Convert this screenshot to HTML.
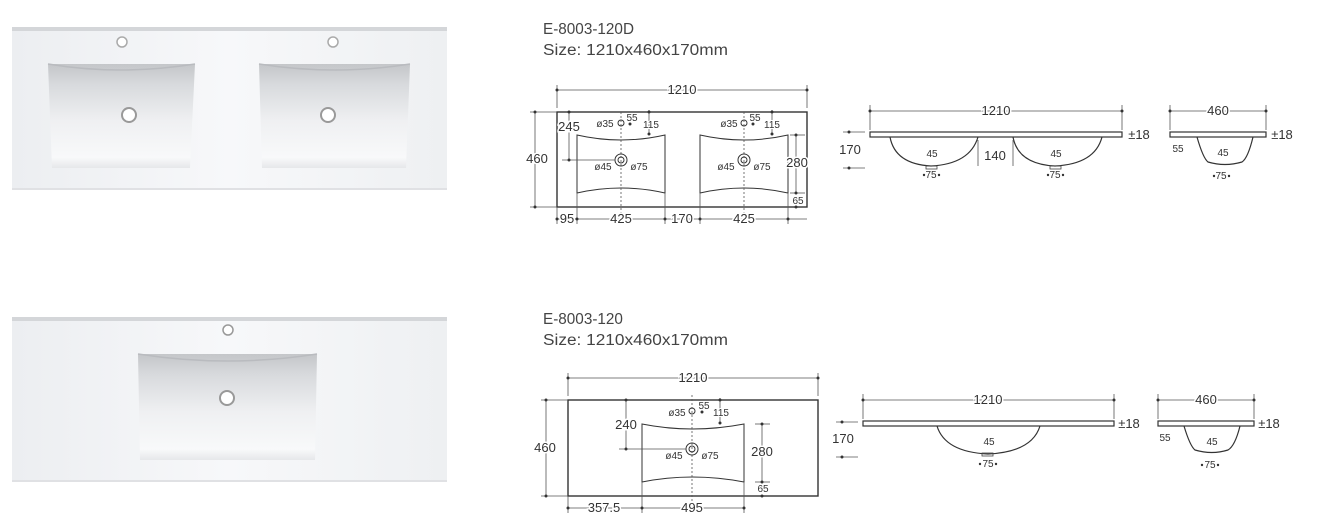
<!DOCTYPE html>
<html><head><meta charset="utf-8"><style>
html,body{margin:0;padding:0;background:#fff;}
svg{display:block;font-family:"Liberation Sans",sans-serif;}
.d{stroke:#555;stroke-width:0.8;fill:none}
.o{stroke:#333;stroke-width:1.4;fill:none}
.t{font-size:13px;fill:#333;stroke:#fff;stroke-width:3;paint-order:stroke;text-anchor:middle}
.s{font-size:10px;fill:#333;stroke:#fff;stroke-width:2;paint-order:stroke;text-anchor:middle}
.dot{fill:#333}
.dash{stroke:#555;stroke-width:0.8;stroke-dasharray:2 2;fill:none}
.h{font-size:15.3px;fill:#444}
</style></head><body>
<svg width="1334" height="520" viewBox="0 0 1334 520" xmlns="http://www.w3.org/2000/svg">
<defs>
<linearGradient id="slab" x1="0" y1="0" x2="1" y2="0">
<stop offset="0" stop-color="#eceef1"/><stop offset="0.5" stop-color="#f7f8fa"/><stop offset="1" stop-color="#eef0f2"/></linearGradient>
<linearGradient id="bas" x1="0" y1="0" x2="0" y2="1">
<stop offset="0" stop-color="#c4c6c9"/><stop offset="0.2" stop-color="#d8dadd"/><stop offset="0.55" stop-color="#eff0f2"/><stop offset="0.9" stop-color="#f8f9fa"/><stop offset="1" stop-color="#e6e7ea"/></linearGradient>
</defs>

<rect x="12" y="28" width="435" height="162" fill="url(#slab)"/>
<rect x="12" y="27" width="435" height="4" fill="#d4d6d9"/>
<rect x="12" y="188" width="435" height="2" fill="#e0e1e4"/>
<path d="M48 64 L195 64 L190 168 L52 168 Z" fill="url(#bas)"/>
<path d="M48 64 Q120 76 195 64" fill="none" stroke="#b9bbbf" stroke-width="1.5"/>
<path d="M259 64 L410 64 L406 168 L262 168 Z" fill="url(#bas)"/>
<path d="M259 64 Q335 76 410 64" fill="none" stroke="#b9bbbf" stroke-width="1.5"/>
<circle cx="122" cy="42" r="5" fill="#fff" stroke="#aaa" stroke-width="1.5"/>
<circle cx="333" cy="42" r="5" fill="#fff" stroke="#aaa" stroke-width="1.5"/>
<circle cx="129" cy="115" r="7" fill="#fff" stroke="#999" stroke-width="2"/>
<circle cx="328" cy="115" r="7" fill="#fff" stroke="#999" stroke-width="2"/>

<rect x="12" y="318" width="435" height="164" fill="url(#slab)"/>
<rect x="12" y="317" width="435" height="4" fill="#d4d6d9"/>
<rect x="12" y="480" width="435" height="2" fill="#e0e1e4"/>
<path d="M138 354 L317 354 L315 460 L140 460 Z" fill="url(#bas)"/>
<path d="M138 354 Q228 368 317 354" fill="none" stroke="#b9bbbf" stroke-width="1.5"/>
<circle cx="228" cy="330" r="5" fill="#fff" stroke="#999" stroke-width="1.5"/>
<circle cx="227" cy="398" r="7" fill="#fff" stroke="#999" stroke-width="2"/>

<text class="h" x="543" y="34">E-8003-120D</text>
<text class="h" x="543" y="55" textLength="185" lengthAdjust="spacingAndGlyphs">Size: 1210x460x170mm</text>
<text class="h" x="543" y="324">E-8003-120</text>
<text class="h" x="543" y="345" textLength="185" lengthAdjust="spacingAndGlyphs">Size: 1210x460x170mm</text>

<rect class="o" x="557" y="112" width="250" height="95"/>
<line class="d" x1="557" y1="90" x2="807" y2="90"/>
<line class="d" x1="557" y1="85" x2="557" y2="108"/><line class="d" x1="807" y1="85" x2="807" y2="108"/>
<circle class="dot" cx="557" cy="90" r="1.5"/><circle class="dot" cx="807" cy="90" r="1.5"/>
<text class="t" x="682" y="94">1210</text>
<line class="d" x1="535" y1="112" x2="535" y2="207"/>
<line class="d" x1="530" y1="112" x2="557" y2="112"/><line class="d" x1="530" y1="207" x2="557" y2="207"/>
<circle class="dot" cx="535" cy="112" r="1.5"/><circle class="dot" cx="535" cy="207" r="1.5"/>
<text class="t" x="537" y="163">460</text>
<path class="o" d="M577 135 Q621 145 665 135 L665 193 Q621 183 577 193 Z" style="stroke-width:1"/>
<path class="o" d="M700 135 Q744 145 788 135 L788 193 Q744 183 700 193 Z" style="stroke-width:1"/>
<line class="dash" x1="621" y1="112" x2="621" y2="215"/>
<line class="dash" x1="744" y1="112" x2="744" y2="215"/>
<circle cx="621" cy="160" r="6" fill="none" stroke="#333"/><circle cx="621" cy="160" r="3" fill="none" stroke="#333"/>
<circle cx="744" cy="160" r="6" fill="none" stroke="#333"/><circle cx="744" cy="160" r="3" fill="none" stroke="#333"/>
<circle cx="621" cy="123" r="3" fill="none" stroke="#333"/><circle cx="744" cy="123" r="3" fill="none" stroke="#333"/>
<circle class="dot" cx="630" cy="124" r="1.5"/><circle class="dot" cx="753" cy="124" r="1.5"/>
<line class="d" x1="569" y1="112" x2="569" y2="160"/><line class="d" x1="562" y1="160" x2="615" y2="160"/>
<circle class="dot" cx="569" cy="112" r="1.5"/><circle class="dot" cx="569" cy="160" r="1.5"/>
<text class="t" x="569" y="131">245</text>
<line class="d" x1="649" y1="110" x2="649" y2="135"/><line class="d" x1="772" y1="110" x2="772" y2="135"/>
<circle class="dot" cx="649" cy="112" r="1.5"/><circle class="dot" cx="649" cy="134" r="1.5"/>
<circle class="dot" cx="772" cy="112" r="1.5"/><circle class="dot" cx="772" cy="134" r="1.5"/>
<text class="s" x="651" y="128">115</text><text class="s" x="772" y="128">115</text>
<text class="s" x="632" y="121">55</text><text class="s" x="755" y="121">55</text>
<text class="s" x="605" y="127">ø35</text><text class="s" x="729" y="127">ø35</text>
<text class="s" x="603" y="170">ø45</text><text class="s" x="639" y="170">ø75</text>
<text class="s" x="726" y="170">ø45</text><text class="s" x="762" y="170">ø75</text>
<line class="d" x1="796" y1="135" x2="796" y2="193"/>
<line class="d" x1="790" y1="135" x2="805" y2="135"/><line class="d" x1="790" y1="193" x2="805" y2="193"/>
<circle class="dot" cx="796" cy="135" r="1.5"/><circle class="dot" cx="796" cy="193" r="1.5"/><circle class="dot" cx="796" cy="207" r="1.5"/>
<text class="t" x="797" y="167">280</text>
<text class="s" x="798" y="204">65</text>
<line class="d" x1="557" y1="219" x2="807" y2="219"/>
<line class="d" x1="577" y1="193" x2="577" y2="224"/><line class="d" x1="665" y1="193" x2="665" y2="224"/>
<line class="d" x1="700" y1="193" x2="700" y2="224"/><line class="d" x1="788" y1="193" x2="788" y2="224"/>
<line class="d" x1="557" y1="207" x2="557" y2="224"/>
<circle class="dot" cx="557" cy="219" r="1.5"/><circle class="dot" cx="577" cy="219" r="1.5"/><circle class="dot" cx="665" cy="219" r="1.5"/><circle class="dot" cx="700" cy="219" r="1.5"/><circle class="dot" cx="788" cy="219" r="1.5"/>
<text class="t" x="567" y="223">95</text><text class="t" x="621" y="223">425</text><text class="t" x="682" y="223">170</text><text class="t" x="744" y="223">425</text>

<line class="d" x1="870" y1="111" x2="1122" y2="111"/>
<line class="d" x1="870" y1="105" x2="870" y2="130"/><line class="d" x1="1122" y1="105" x2="1122" y2="130"/>
<circle class="dot" cx="870" cy="111" r="1.5"/><circle class="dot" cx="1122" cy="111" r="1.5"/>
<text class="t" x="996" y="115">1210</text>
<rect class="o" x="870" y="132" width="252" height="5" style="stroke-width:1.2"/>
<path class="o" d="M890 137 Q895 164 931 166 Q970 164 978 137" style="stroke-width:1.2"/>
<path class="o" d="M1013 137 Q1018 164 1055 166 Q1095 164 1102 137" style="stroke-width:1.2"/>
<rect x="926" y="166" width="11" height="3" fill="none" stroke="#444" stroke-width="0.8"/>
<rect x="1050" y="166" width="11" height="3" fill="none" stroke="#444" stroke-width="0.8"/>
<text class="s" x="932" y="157">45</text><text class="s" x="1056" y="157">45</text>
<text class="s" x="931" y="178">75</text><text class="s" x="1055" y="178">75</text>
<circle class="dot" cx="924" cy="175" r="1.2"/><circle class="dot" cx="939" cy="175" r="1.2"/>
<circle class="dot" cx="1048" cy="175" r="1.2"/><circle class="dot" cx="1063" cy="175" r="1.2"/>
<line class="d" x1="978" y1="140" x2="978" y2="166"/><line class="d" x1="1013" y1="140" x2="1013" y2="166"/>
<text class="t" x="995" y="160">140</text>
<line class="d" x1="843" y1="132" x2="865" y2="132"/><line class="d" x1="843" y1="168" x2="865" y2="168"/>
<circle class="dot" cx="849" cy="132" r="1.5"/><circle class="dot" cx="849" cy="168" r="1.5"/>
<text class="t" x="850" y="154">170</text>
<text class="t" x="1139" y="139">±18</text>
<line class="d" x1="1170" y1="111" x2="1266" y2="111"/>
<line class="d" x1="1170" y1="105" x2="1170" y2="130"/><line class="d" x1="1266" y1="105" x2="1266" y2="130"/>
<circle class="dot" cx="1170" cy="111" r="1.5"/><circle class="dot" cx="1266" cy="111" r="1.5"/>
<text class="t" x="1218" y="115">460</text>
<rect class="o" x="1170" y="132" width="96" height="5" style="stroke-width:1.2"/>
<path class="o" d="M1197 137 Q1203 158 1208 162 Q1225 167 1242 162 Q1248 158 1253 137" style="stroke-width:1.2"/>
<text class="s" x="1223" y="156">45</text><text class="s" x="1221" y="179">75</text>
<circle class="dot" cx="1214" cy="176" r="1.2"/><circle class="dot" cx="1229" cy="176" r="1.2"/>
<text class="s" x="1178" y="152">55</text>
<text class="t" x="1282" y="139">±18</text>

<rect class="o" x="568" y="400" width="250" height="96"/>
<line class="d" x1="568" y1="378" x2="818" y2="378"/>
<line class="d" x1="568" y1="373" x2="568" y2="396"/><line class="d" x1="818" y1="373" x2="818" y2="396"/>
<circle class="dot" cx="568" cy="378" r="1.5"/><circle class="dot" cx="818" cy="378" r="1.5"/>
<text class="t" x="693" y="382">1210</text>
<line class="d" x1="546" y1="400" x2="546" y2="496"/>
<line class="d" x1="541" y1="400" x2="568" y2="400"/><line class="d" x1="541" y1="496" x2="568" y2="496"/>
<circle class="dot" cx="546" cy="400" r="1.5"/><circle class="dot" cx="546" cy="496" r="1.5"/>
<text class="t" x="545" y="452">460</text>
<path class="o" d="M642 424 Q692 434 744 424 L744 482 Q692 472 642 482 Z" style="stroke-width:1"/>
<line class="dash" x1="692" y1="395" x2="692" y2="505"/>
<circle cx="692" cy="449" r="6" fill="none" stroke="#333"/><circle cx="692" cy="449" r="3" fill="none" stroke="#333"/>
<circle cx="692" cy="411" r="3" fill="none" stroke="#333"/><circle class="dot" cx="702" cy="412" r="1.5"/>
<line class="d" x1="626" y1="400" x2="626" y2="449"/><line class="d" x1="619" y1="449" x2="686" y2="449"/>
<circle class="dot" cx="626" cy="400" r="1.5"/><circle class="dot" cx="626" cy="449" r="1.5"/>
<text class="t" x="626" y="429">240</text>
<line class="d" x1="720" y1="398" x2="720" y2="424"/>
<circle class="dot" cx="720" cy="400" r="1.5"/><circle class="dot" cx="720" cy="423" r="1.5"/>
<text class="s" x="721" y="416">115</text><text class="s" x="704" y="409">55</text>
<text class="s" x="677" y="416">ø35</text>
<text class="s" x="674" y="459">ø45</text><text class="s" x="710" y="459">ø75</text>
<line class="d" x1="762" y1="424" x2="762" y2="482"/>
<line class="d" x1="755" y1="424" x2="770" y2="424"/><line class="d" x1="755" y1="482" x2="770" y2="482"/>
<circle class="dot" cx="762" cy="424" r="1.5"/><circle class="dot" cx="762" cy="482" r="1.5"/><circle class="dot" cx="762" cy="496" r="1.5"/>
<text class="t" x="762" y="456">280</text>
<text class="s" x="763" y="492">65</text>
<line class="d" x1="568" y1="508" x2="744" y2="508"/>
<line class="d" x1="568" y1="496" x2="568" y2="513"/><line class="d" x1="642" y1="482" x2="642" y2="513"/><line class="d" x1="744" y1="482" x2="744" y2="513"/>
<circle class="dot" cx="568" cy="508" r="1.5"/><circle class="dot" cx="642" cy="508" r="1.5"/><circle class="dot" cx="744" cy="508" r="1.5"/>
<text class="t" x="604" y="512">357.5</text><text class="t" x="692" y="512">495</text>

<line class="d" x1="863" y1="400" x2="1114" y2="400"/>
<line class="d" x1="863" y1="394" x2="863" y2="419"/><line class="d" x1="1114" y1="394" x2="1114" y2="419"/>
<circle class="dot" cx="863" cy="400" r="1.5"/><circle class="dot" cx="1114" cy="400" r="1.5"/>
<text class="t" x="988" y="404">1210</text>
<rect class="o" x="863" y="421" width="251" height="5" style="stroke-width:1.2"/>
<path class="o" d="M937 426 Q945 452 988 454 Q1032 452 1040 426" style="stroke-width:1.2"/>
<rect x="982" y="453" width="11" height="3" fill="none" stroke="#444" stroke-width="0.8"/>
<text class="s" x="989" y="445">45</text><text class="s" x="988" y="467">75</text>
<circle class="dot" cx="980" cy="464" r="1.2"/><circle class="dot" cx="996" cy="464" r="1.2"/>
<line class="d" x1="836" y1="422" x2="858" y2="422"/><line class="d" x1="836" y1="457" x2="858" y2="457"/>
<circle class="dot" cx="842" cy="422" r="1.5"/><circle class="dot" cx="842" cy="457" r="1.5"/>
<text class="t" x="843" y="443">170</text>
<text class="t" x="1129" y="428">±18</text>
<line class="d" x1="1158" y1="400" x2="1254" y2="400"/>
<line class="d" x1="1158" y1="394" x2="1158" y2="419"/><line class="d" x1="1254" y1="394" x2="1254" y2="419"/>
<circle class="dot" cx="1158" cy="400" r="1.5"/><circle class="dot" cx="1254" cy="400" r="1.5"/>
<text class="t" x="1206" y="404">460</text>
<rect class="o" x="1158" y="421" width="96" height="5" style="stroke-width:1.2"/>
<path class="o" d="M1184 426 Q1190 446 1195 450 Q1212 455 1228 450 Q1235 446 1240 426" style="stroke-width:1.2"/>
<text class="s" x="1212" y="445">45</text><text class="s" x="1210" y="468">75</text>
<circle class="dot" cx="1202" cy="465" r="1.2"/><circle class="dot" cx="1218" cy="465" r="1.2"/>
<text class="s" x="1165" y="441">55</text>
<text class="t" x="1269" y="428">±18</text>
</svg>
</body></html>
